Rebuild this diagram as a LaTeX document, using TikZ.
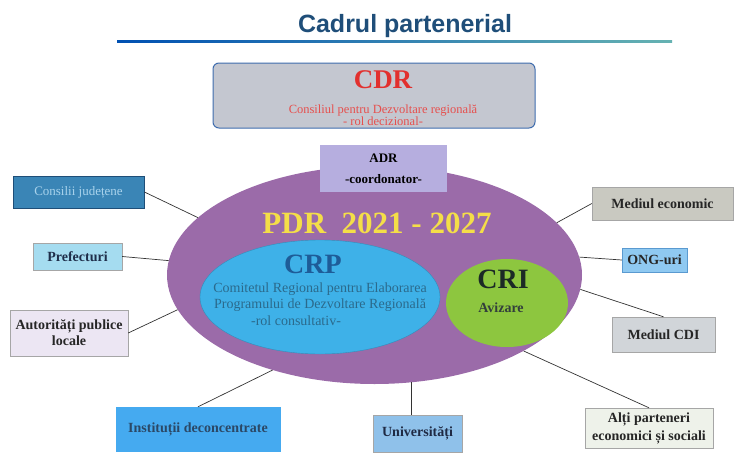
\documentclass[tikz,border=0pt]{standalone}
\usepackage{fontspec}
\setmainfont{Liberation Serif}
\newfontfamily\headfont{Liberation Sans}
\usepackage{xcolor}
\usepackage{tikz}
\usetikzlibrary{positioning, shapes.geometric}

\definecolor{titleblue}{HTML}{1F4E79}
\definecolor{cdrgray}{HTML}{C4C7D0}
\definecolor{cdrborder}{HTML}{3F6DAE}
\definecolor{cdrred}{HTML}{E2302E}
\definecolor{adrlav}{HTML}{B6AEDF}
\definecolor{pdrpurple}{HTML}{9B6BA9}
\definecolor{pdryellow}{HTML}{F4DE48}
\definecolor{crpblue}{HTML}{3EB1E8}
\definecolor{crpname}{HTML}{1E5C98}
\definecolor{crptext}{HTML}{2B6A8C}
\definecolor{crigreen}{HTML}{8DC63F}
\definecolor{cridark}{HTML}{1C2A26}

\begin{document}
\begin{tikzpicture}[x=1pt, y=-1pt,
    partner/.style={rectangle, draw=gray!70, thin, align=center, inner sep=2pt,
        font=\fontsize{14}{16}\selectfont\bfseries, text=black!85},
    link/.style={draw=black!80, line width=0.7pt}
]
\useasboundingbox (0,0) rectangle (735,452);

% title and underline
\node[font=\headfont\bfseries\fontsize{25}{28}\selectfont, text=titleblue, anchor=base] (title) at (405,33) {Cadrul partenerial};
\shade[left color=blue!55!cyan!70!black, right color=teal!60] (117,41) rectangle (672,43);

% CDR (top)
\node[rectangle, draw=cdrborder, fill=cdrgray, rounded corners=6pt, line width=1pt,
      minimum width=322, minimum height=65] (CDR) at (374,95.5) {};
\node[font=\fontsize{27}{30}\selectfont\bfseries, text=cdrred, anchor=base] (CDRt) at (383,88) {CDR};
\node[font=\fontsize{12.5}{12.5}\selectfont, text=cdrred!85, align=center, below=9pt of CDRt] (CDRs)
    {Consiliul pentru Dezvoltare regională\\- rol decizional-};

% PDR (big ellipse)
\node[ellipse, fill=pdrpurple, minimum width=415, minimum height=218, inner sep=0pt] (PDR) at (374.5,275) {};
\node[font=\fontsize{31}{33}\selectfont\bfseries, text=pdryellow, anchor=base] (PDRt) at (377,233) {PDR\ \ 2021 - 2027};

% ADR (on top of PDR)
\node[rectangle, fill=adrlav, minimum width=127, minimum height=47, align=center,
      font=\fontsize{13}{21}\selectfont\bfseries] (ADR) at (383.5,168.5) {ADR\\-coordonator-};

% CRP (left inner ellipse)
\node[ellipse, fill=crpblue, draw=crpblue!80!black, minimum width=240, minimum height=114, inner sep=0pt] (CRP) at (320,297) {};
\node[font=\fontsize{28}{30}\selectfont\bfseries, text=crpname, anchor=base] (CRPt) at (313,273) {CRP};
\node[font=\fontsize{14}{16.5}\selectfont, text=crptext, align=center, anchor=base] (CRPs) at (320,325)
    {Comitetul Regional pentru Elaborarea\\Programului de Dezvoltare Regională\\-rol consultativ-\rule{48pt}{0pt}};

% CRI (right inner ellipse)
\node[ellipse, fill=crigreen, minimum width=122, minimum height=88, inner sep=0pt] (CRI) at (507,303) {};
\node[font=\fontsize{28}{30}\selectfont\bfseries, text=cridark, anchor=base] (CRIt) at (503,288) {CRI};
\node[font=\fontsize{14}{15}\selectfont\bfseries, text=cridark!90, anchor=base] (CRIs) at (501,312) {Avizare};

% partners (left)
\node[partner, fill={rgb,255:red,58;green,133;blue,182}, draw={rgb,255:red,30;green,78;blue,120}, line width=0.8pt,
      font=\fontsize{13}{15}\selectfont, text={rgb,255:red,169;green,211;blue,236},
      minimum width=131, minimum height=32] (Cons) at (78.5,192) {Consilii județene};
\node[partner, fill={rgb,255:red,165;green,220;blue,240}, text={rgb,255:red,31;green,46;blue,74},
      minimum width=89, minimum height=27] (Pref) at (77.5,256.5) {Prefecturi};
\node[partner, fill={rgb,255:red,236;green,230;blue,243},
      minimum width=118, minimum height=46] (APL) at (69,333) {Autorități publice\\locale};

% partners (right)
\node[partner, fill={rgb,255:red,201;green,201;blue,193},
      minimum width=141, minimum height=33] (MedEc) at (662.5,203.5) {Mediul economic};
\node[partner, fill={rgb,255:red,143;green,201;blue,241}, draw={rgb,255:red,90;green,154;blue,208},
      minimum width=65, minimum height=24] (ONG) at (654.5,260) {ONG-uri};
\node[partner, fill={rgb,255:red,209;green,213;blue,217},
      minimum width=103, minimum height=35] (CDI) at (663.5,334.5) {Mediul CDI};

% partners (bottom)
\node[partner, fill={rgb,255:red,69;green,170;blue,240}, draw={rgb,255:red,69;green,170;blue,240},
      text={rgb,255:red,43;green,72;blue,102},
      minimum width=164, minimum height=44] (Inst) at (198,429) {Instituții deconcentrate};
\node[partner, fill={rgb,255:red,143;green,193;blue,234}, text={rgb,255:red,31;green,42;blue,68},
      minimum width=89, minimum height=37] (Univ) at (417.5,433.5) {Universități};
\node[partner, fill={rgb,255:red,238;green,242;blue,234},
      minimum width=128, minimum height=40, font=\fontsize{14}{18}\selectfont\bfseries] (Alti) at (649,428) {Alți parteneri\\economici și sociali};

% links to PDR
\draw[link] (Cons.east) -- (PDR.162);
\draw[link] (Pref.east) -- (PDR.176);
\draw[link] (APL.east) -- (PDR.190);
\draw[link] (MedEc.west) -- (PDR.16);
\draw[link] (ONG.west) -- (PDR.5);
\draw[link] (CDI.north) -- (PDR.356);
\draw[link] (Alti.north) -- (PDR.333);
\draw[link] (PDR.289) -- (PDR.289 |- Univ.north);
\draw[link] (Inst.north) -- (PDR.223);

\end{tikzpicture}
\end{document}
